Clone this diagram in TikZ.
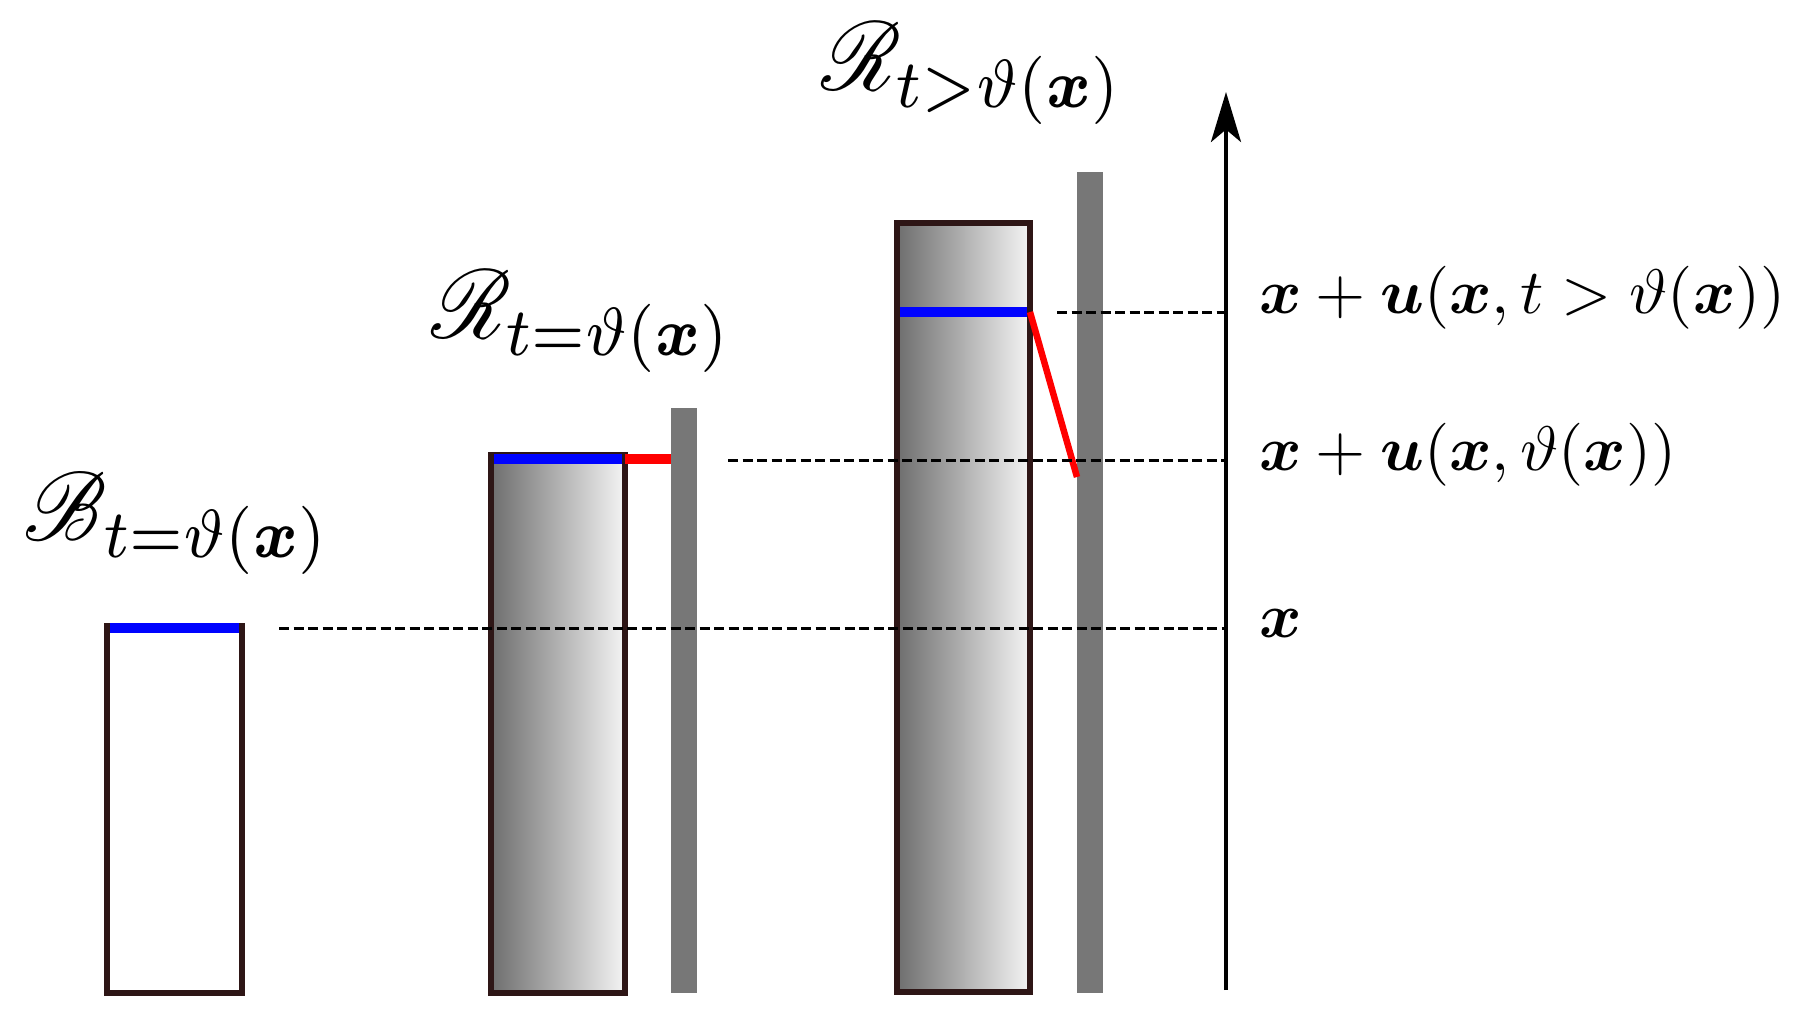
\documentclass[tikz,border=0pt]{standalone}
\usepackage{amsmath,amssymb,mathrsfs,bm}
\usepackage{tikz}
\usetikzlibrary{arrows.meta}
\definecolor{rodedge}{HTML}{2E1616}
\definecolor{walgray}{HTML}{777777}
\definecolor{shadedark}{HTML}{6E6E6E}
\definecolor{shadelight}{HTML}{F4F4F4}
\def\drawtop{\draw[color=blue!90!cyan!10!blue, line width=1.9pt]}
\def\drawgap{\draw[color=red, line width=1.9pt]}
\def\drawwall{\fill[color=walgray]}
\def\bigmath#1{\scalebox{1.75}[1.95]{$#1$}}
\def\axmath#1{\scalebox{1.29}[1.26]{$#1$}}

\begin{document}
\begin{tikzpicture}[x=0.2pt,y=-0.2pt,
  rod/.style={draw=rodedge, line width=1.2pt},
  pressed/.style={rod, left color=shadedark, right color=shadelight},
  level/.style={black, line width=0.6pt, dash pattern=on 2pt off 0.9pt},
  axlabel/.style={anchor=mid west, inner sep=0pt},
  stage/.style={anchor=base west, inner sep=0pt}]
\useasboundingbox (0,0) rectangle (1802,1028);

% -------- undeformed body ---------
\draw[rod] (107,626) rectangle (242,993);
\drawtop (110,628) -- (239,628);
\node[stage] (Bt) at (23,540) {\bigmath{\mathscr{B}_{t=\vartheta(\bm{x})}}};

% -------- rod at t = theta ---------
\coordinate (r1top) at (625,459);
\coordinate (w1) at (671,459);
\draw[pressed] (491,455) rectangle (625,993);
\drawwall (671,408) rectangle (697,993);
\drawtop (494,459) -- (622,459);
\drawgap (r1top) -- (w1);
\node[stage] (Rt) at (430,338) {\bigmath{\mathscr{R}_{t=\vartheta(\bm{x})}}};

% -------- rod at t > theta ---------
\coordinate (r2top) at (1030,312);
\coordinate (w2) at (1077,477);
\draw[pressed] (897,223) rectangle (1030,992);
\drawwall (1077,172) rectangle (1103,993);
\drawtop (900,312) -- (1027,312);
\drawgap[line width=1.3pt] (r2top) -- (w2);
\node[stage] (Rg) at (820,90) {\bigmath{\mathscr{R}_{t>\vartheta(\bm{x})}}};

% Now the axis and the levels
\coordinate (axbot) at (1226,990);
\coordinate (axtop) at (1226,92);
\draw[line width=0.8pt, -{Stealth[length=10pt, width=6pt, inset=2.5pt]}] (axbot) -- (axtop);
\draw[level] (279,628) -- (1226,628);
\draw[level] (728,460) -- (1226,460);
\draw[level] (1057,312) -- (1226,312);
\node[axlabel] (l0) at (1258,627) {\axmath{\bm{x}}};
\node[axlabel] (l1) at (1258,460) {\axmath{\bm{x}+\bm{u}(\bm{x},\vartheta(\bm{x}))}};
\node[axlabel] (l2) at (1258,303) {\axmath{\bm{x}+\bm{u}(\bm{x},t>\vartheta(\bm{x}))}};
\end{tikzpicture}
\end{document}
